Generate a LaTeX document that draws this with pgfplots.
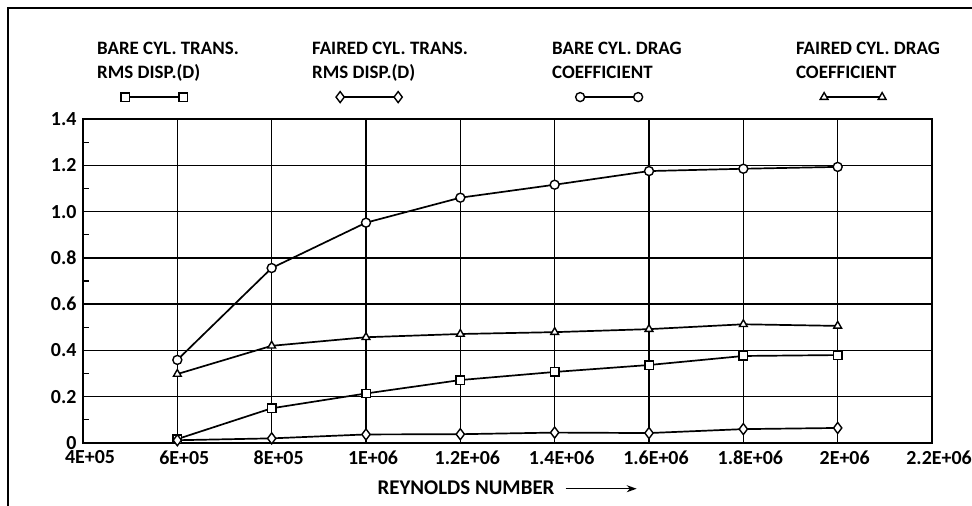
\documentclass[border=0pt]{standalone}
\usepackage{fontspec}
\setmainfont{Carlito}
\usepackage{pgfplots}
\pgfplotsset{compat=1.18}
\usetikzlibrary{arrows.meta}
\begin{document}
\begin{tikzpicture}
\useasboundingbox (0,0) rectangle (972bp,506bp);
\draw[line width=1.5bp] (8bp,0) -- (8bp,498bp) -- (972bp,498bp);
\begin{axis}[
  at={(83bp,63bp)}, anchor=south west,
  scale only axis, width=849bp, height=324bp,
  xmin=4e5, xmax=2.2e6, ymin=0, ymax=1.4,
  scaled x ticks=false, scaled y ticks=false,
  xtick={4e5,6e5,8e5,1e6,1.2e6,1.4e6,1.6e6,1.8e6,2e6,2.2e6},
  xticklabels={4E+05,6E+05,8E+05,1E+06,1.2E+06,1.4E+06,1.6E+06,1.8E+06,2E+06,2.2E+06},
  ytick={0,0.2,0.4,0.6,0.8,1.0,1.2,1.4},
  yticklabels={0\hspace{12bp},0.2,0.4,0.6,0.8,1.0,1.2,1.4},
  minor ytick={0.1,0.3,0.5,0.7,0.9,1.1,1.3},
  grid=major,
  major grid style={black, line width=1.4bp},
  axis line style={line width=1.8bp},
  major tick length=0pt, minor tick length=6bp,
  tick align=inside, ytick pos=left, xtick pos=bottom,
  tick style={black, line width=1.2bp},
  ticklabel style={font=\fontsize{20}{24}\selectfont\bfseries},
  yticklabel style={xshift=-3bp},
  xticklabel style={yshift=-4bp, xshift=7bp},
  xlabel={REYNOLDS NUMBER\hspace{0.5em}\tikz[baseline=-0.6ex]\draw[-{Stealth[length=10bp,width=7bp]},line width=1.5bp] (0,0)--(71bp,0);},
  xlabel style={at={(axis description cs:0.5,-0.139)}, anchor=center, font=\fontsize{21}{24}\selectfont\bfseries},
  every axis plot/.append style={line width=1.7bp, black},
  legend columns=4,
  legend cell align=left,
  legend style={draw=none, fill=none, at={(axis description cs:0.0141,1.244)}, anchor=north west,
    inner sep=0pt, font=\fontsize{19}{24}\selectfont\bfseries},
  legend image code/.code={\draw[overlay,#1] plot coordinates {(30bp,-48bp) (88bp,-48bp)};},
]
\addplot[mark=square*, mark size=4.2bp, mark options={fill=white, line width=1.4bp}] coordinates {
(6e5,0.017) (8e5,0.15) (1e6,0.214) (1.2e6,0.272) (1.4e6,0.307) (1.6e6,0.337) (1.8e6,0.376) (2e6,0.38)};
\addlegendentry{\parbox[t]{211bp}{BARE CYL. TRANS.\\RMS DISP.(D)}}
\addplot[mark=diamond*, mark size=5.5bp, mark options={fill=white, line width=1.4bp}] coordinates {
(6e5,0.012) (8e5,0.02) (1e6,0.037) (1.2e6,0.038) (1.4e6,0.045) (1.6e6,0.043) (1.8e6,0.06) (2e6,0.065)};
\addlegendentry{\parbox[t]{236bp}{FAIRED CYL. TRANS.\\RMS DISP.(D)}}
\addplot[mark=*, mark size=4.5bp, mark options={fill=white, line width=1.4bp}] coordinates {
(6e5,0.359) (8e5,0.756) (1e6,0.952) (1.2e6,1.06) (1.4e6,1.116) (1.6e6,1.175) (1.8e6,1.185) (2e6,1.193)};
\addlegendentry{\parbox[t]{240bp}{BARE CYL. DRAG\\COEFFICIENT}}
\addplot[mark=triangle*, mark size=4.5bp, mark options={fill=white, line width=1.4bp}] coordinates {
(6e5,0.298) (8e5,0.42) (1e6,0.457) (1.2e6,0.471) (1.4e6,0.479) (1.6e6,0.492) (1.8e6,0.513) (2e6,0.506)};
\addlegendentry{\parbox[t]{150bp}{FAIRED CYL. DRAG\\COEFFICIENT}}
\end{axis}
\end{tikzpicture}
\end{document}
